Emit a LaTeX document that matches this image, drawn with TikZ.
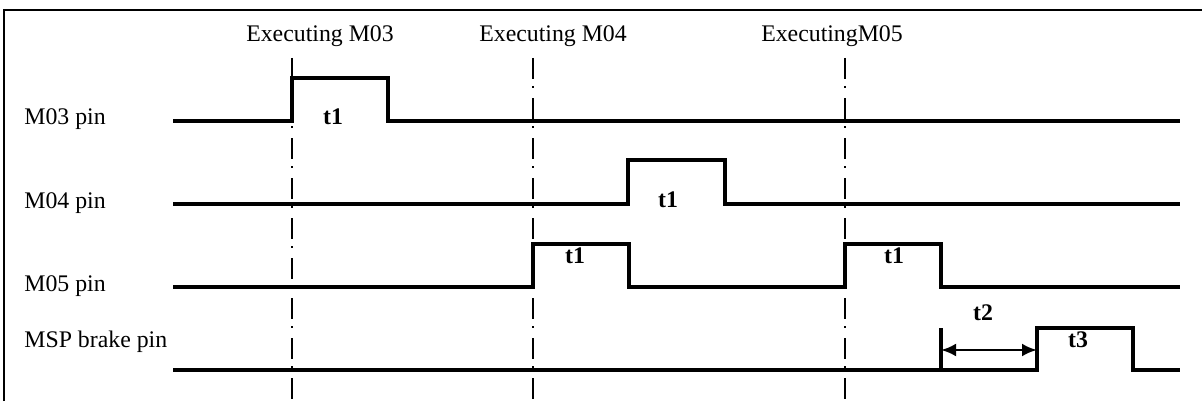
\documentclass[tikz,border=0pt]{standalone}
\usepackage{fontspec}
\setmainfont{Liberation Serif}
\usetikzlibrary{arrows.meta}
\tikzset{
  sig/.style={line width=1.6pt, line join=miter},
  frameline/.style={line width=1pt},
  marker/.style={line width=1.2pt, dash pattern=on 10.5pt off 3.5pt on 1pt off 5pt},
  lbl/.style={anchor=base, inner sep=0pt, font=\fontsize{11.9}{14}\selectfont},
  rowlbl/.style={anchor=base west, inner sep=0pt, font=\fontsize{11.9}{14}\selectfont},
  tlbl/.style={anchor=base, inner sep=0pt, font=\fontsize{11.9}{14}\selectfont\bfseries},
  dim/.style={line width=1.4pt, {Latex[length=7.5pt,width=6.5pt]}-{Latex[length=7.5pt,width=6.5pt]}}
}
\begin{document}
\begin{tikzpicture}[x=0.5pt,y=-0.5pt]
\useasboundingbox (0,0) rectangle (1202,401);
% frame
\draw[frameline] (4,401) -- (4,10) -- (1202,10);
% marker lines
\draw[marker] (292,58) -- (292,401);
\draw[marker] (533,58) -- (533,401);
\draw[marker] (845,58) -- (845,401);
% headings
\node[lbl] (h3) at (320,42) {Executing M03};
\node[lbl] (h4) at (553,42) {Executing M04};
\node[lbl] (h5) at (832,42) {ExecutingM05};
% row labels
\node[rowlbl] (r1) at (24,125) {M03 pin};
\node[rowlbl] (r2) at (24,208) {M04 pin};
\node[rowlbl] (r3) at (24,291) {M05 pin};
\node[rowlbl] (r4) at (24,347) {MSP brake pin};
% waveforms
\draw[sig] (173,121) -- (292,121) -- (292,78) -- (388,78) -- (388,121) -- (1180,121);
\draw[sig] (173,204) -- (628,204) -- (628,160) -- (725,160) -- (725,204) -- (1180,204);
\draw[sig] (173,287) -- (533,287) -- (533,244) -- (629,244) -- (629,287) -- (845,287) -- (845,244) -- (941,244) -- (941,287) -- (1180,287);
\draw[sig] (173,370) -- (1037,370) -- (1037,328) -- (1133,328) -- (1133,370) -- (1180,370);
% t2 tick and dimension arrow
\coordinate (tickTop) at (941,328);
\coordinate (tickBot) at (941,370);
\draw[line width=1.6pt] (tickBot) -- (tickTop);
\coordinate (a1) at (941,350);
\coordinate (a2) at (1037,350);
\draw[dim] (a1) -- (a2);
% time labels
\node[tlbl] (t1a) at (333,125) {t1};
\node[tlbl] (t1b) at (668,207) {t1};
\node[tlbl] (t1c) at (575,263) {t1};
\node[tlbl] (t1d) at (894,263) {t1};
\node[tlbl] (t2) at (983,320) {t2};
\node[tlbl] (t3) at (1078,347) {t3};
\end{tikzpicture}
\end{document}
